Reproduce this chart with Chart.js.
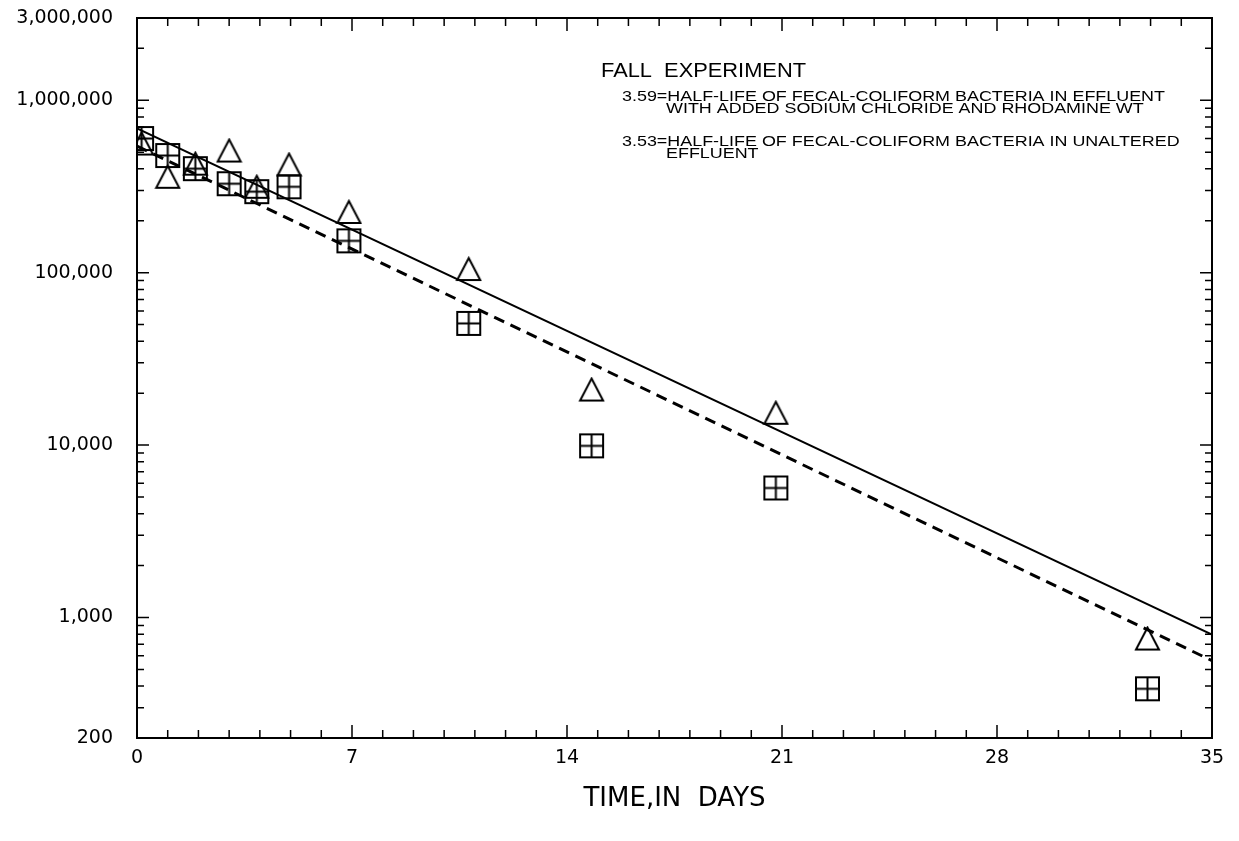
<!DOCTYPE html>
<html lang="en">
<head>
<meta charset="UTF-8">
<title>Fall experiment - fecal-coliform half-life</title>
<script src="https://cdn.jsdelivr.net/npm/chart.js"></script>
<style>
  body { margin: 0; background: #fff; }
  #wrap { width: 1239px; height: 841px; }
</style>
</head>
<body>
<div id="wrap"><canvas id="chart" width="1239" height="841"></canvas></div>
<script>
// counts (colonies per 100 mL), time in days
const triDays   = [0.15, 1, 1.9, 3, 3.9, 4.95, 6.9, 10.8, 14.8, 20.8, 32.9];
const triCounts = [561000, 360000, 429000, 511000, 315000, 424000, 225000, 105000, 21000, 15400, 755];
const sqDays    = [0.15, 1, 1.9, 3, 3.9, 4.95, 6.9, 10.8, 14.8, 20.8, 32.9];
const sqCounts  = [600000, 478000, 401000, 328000, 295000, 315000, 153000, 50800, 9900, 5640, 386];

// fitted lines, end points only
const fitDays   = [0, 35];
const fitSalt   = [686000, 796];   // 3.59 day half-life (solid)
const fitPlain  = [542000, 562];   // 3.53 day half-life (dashed)

const yLabelValues = [200, 1000, 10000, 100000, 1000000, 3000000];
const xLabelValues = [0, 7, 14, 21, 28, 35];

const noteTitle = 'FALL  EXPERIMENT';
const noteLines = [
    '3.59=HALF-LIFE OF FECAL-COLIFORM BACTERIA IN EFFLUENT',
    'WITH ADDED SODIUM CHLORIDE AND RHODAMINE WT',
    '3.53=HALF-LIFE OF FECAL-COLIFORM BACTERIA IN UNALTERED',
    'EFFLUENT'
];

function toPoints(xs, ys) {
    return xs.map((x, i) => ({ x: x, y: ys[i] }));
}

// open triangle marker
function makeTriangle() {
    const c = document.createElement('canvas');
    c.width = 27; c.height = 26;
    const g = c.getContext('2d');
    g.strokeStyle = '#000';
    g.lineWidth = 2;
    g.beginPath();
    g.moveTo(13.5, 2);
    g.lineTo(25, 24);
    g.lineTo(2, 24);
    g.closePath();
    g.stroke();
    return c;
}

// square with a cross in it
function makeSquare() {
    const c = document.createElement('canvas');
    c.width = 27; c.height = 27;
    const g = c.getContext('2d');
    g.strokeStyle = '#000';
    g.lineWidth = 2;
    g.strokeRect(2, 2, 23, 23);
    g.beginPath();
    g.moveTo(13.5, 2); g.lineTo(13.5, 25);
    g.moveTo(2, 13.5); g.lineTo(25, 13.5);
    g.stroke();
    return c;
}

// box round the plot, inward ticks on all four sides
const frameTicks = {
    id: 'frameTicks',
    afterDatasetsDraw(chart) {
        const { ctx, chartArea: a, scales: { x, y } } = chart;
        ctx.save();
        ctx.strokeStyle = '#000';
        ctx.lineWidth = 2;
        ctx.strokeRect(a.left, a.top, a.right - a.left, a.bottom - a.top);

        ctx.lineWidth = 1.5;
        ctx.beginPath();
        for (let d = 1; d < 35; d++) {
            const px = x.getPixelForValue(d);
            const len = d % 7 === 0 ? 13 : 8;
            ctx.moveTo(px, a.bottom); ctx.lineTo(px, a.bottom - len);
            ctx.moveTo(px, a.top); ctx.lineTo(px, a.top + len);
        }
        for (let e = 2; e <= 6; e++) {
            for (let m = 1; m <= 9; m++) {
                const v = m * Math.pow(10, e);
                if (v <= 200 || v >= 3000000) continue;
                const py = y.getPixelForValue(v);
                const len = m === 1 ? 12 : 7;
                ctx.moveTo(a.left, py); ctx.lineTo(a.left + len, py);
                ctx.moveTo(a.right, py); ctx.lineTo(a.right - len, py);
            }
        }
        ctx.stroke();
        ctx.restore();
    },
    afterDraw(chart) {
        const ctx = chart.ctx;
        ctx.save();
        ctx.fillStyle = '#000';
        ctx.textBaseline = 'middle';

        ctx.font = '20px "Liberation Sans"';
        let sx = 205 / ctx.measureText(noteTitle).width;
        drawScaled(ctx, noteTitle, 601, 71, sx);

        ctx.font = '15px "Liberation Sans"';
        sx = 543 / ctx.measureText(noteLines[0]).width;
        drawScaled(ctx, noteLines[0], 622, 97, sx);
        drawScaled(ctx, noteLines[1], 666, 109, sx);
        drawScaled(ctx, noteLines[2], 622, 142, sx);
        drawScaled(ctx, noteLines[3], 666, 154, sx);
        ctx.restore();
    }
};

function drawScaled(ctx, text, x, y, sx) {
    ctx.save();
    ctx.translate(x, y);
    ctx.scale(sx, 1);
    ctx.fillText(text, 0, 0);
    ctx.restore();
}

const tickFont = { family: '"DejaVu Sans"', size: 19 };

new Chart(document.getElementById('chart'), {
    type: 'scatter',
    data: {
        datasets: [
            {
                label: 'With sodium chloride and rhodamine WT',
                data: toPoints(triDays, triCounts),
                pointStyle: makeTriangle(),
                pointRadius: 12
            },
            {
                label: 'Unaltered effluent',
                data: toPoints(sqDays, sqCounts),
                pointStyle: makeSquare(),
                pointRadius: 12
            },
            {
                label: 'Fit, 3.59 days',
                data: toPoints(fitDays, fitSalt),
                showLine: true,
                borderColor: '#000',
                borderWidth: 2,
                pointRadius: 0
            },
            {
                label: 'Fit, 3.53 days',
                data: toPoints(fitDays, fitPlain),
                showLine: true,
                borderColor: '#000',
                borderWidth: 3,
                borderDash: [11, 7],
                pointRadius: 0
            }
        ]
    },
    options: {
        responsive: false,
        animation: false,
        layout: { padding: { top: 18, right: 27, left: 0, bottom: 0 } },
        plugins: {
            legend: { display: false },
            tooltip: { enabled: false }
        },
        scales: {
            x: {
                type: 'linear',
                min: 0,
                max: 35,
                afterBuildTicks: s => { s.ticks = xLabelValues.map(v => ({ value: v })); },
                afterFit: s => { s.height = 103; s.paddingLeft = 0; s.paddingRight = 0; },
                grid: { display: false, drawTicks: false },
                border: { display: false },
                ticks: { color: '#000', font: tickFont, padding: 9, maxRotation: 0 },
                title: {
                    display: true,
                    text: 'TIME,IN  DAYS',
                    color: '#000',
                    font: { family: '"DejaVu Sans"', size: 26 },
                    padding: { bottom: 26 }
                }
            },
            y: {
                type: 'logarithmic',
                min: 200,
                max: 3000000,
                afterBuildTicks: s => { s.ticks = yLabelValues.map(v => ({ value: v })); },
                afterFit: s => { s.width = 137; s.paddingTop = 0; s.paddingBottom = 0; },
                grid: { display: false, drawTicks: false },
                border: { display: false },
                ticks: {
                    color: '#000',
                    font: tickFont,
                    padding: 24,
                    callback: v => Number(v).toLocaleString('en-US')
                }
            }
        }
    },
    plugins: [frameTicks]
});
</script>
</body>
</html>
